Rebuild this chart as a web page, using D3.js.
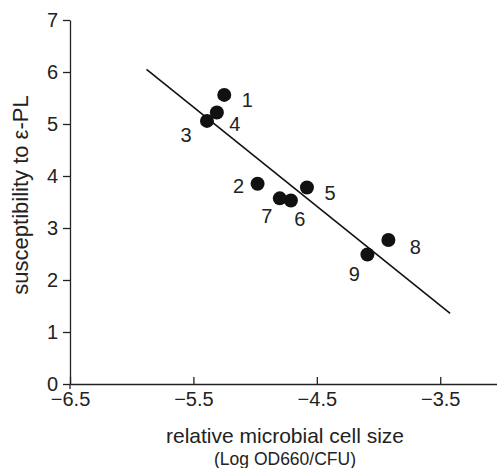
<!DOCTYPE html>
<meta charset="utf-8">
<style>
body { margin: 0; background: #fff; }
svg text { font-family: "Liberation Sans", Arial, sans-serif; fill: #222; }
.axis path, .axis line { stroke: #222; stroke-width: 1.3px; }
.axis text { font-size: 20px; }
.fit { fill: none; stroke: #111; stroke-width: 1.6px; }
.dot { fill: #111; }
.num { font-size: 20px; }
</style>
<svg width="497" height="468"></svg>
<script src="https://d3js.org/d3.v7.min.js"></script>
<script>
var ids = [1, 2, 3, 4, 5, 6, 7, 8, 9];
var cellSize = [-5.25, -4.98, -5.39, -5.31, -4.58, -4.71, -4.80, -3.92, -4.09];
var suscept = [5.56, 3.85, 5.06, 5.22, 3.78, 3.53, 3.57, 2.77, 2.49];

// regression line end points
var fitX = [-5.88, -3.42];
var fitY = [6.05, 1.36];

var xTicks = [-6.5, -5.5, -4.5, -3.5];
var yTicks = [0, 1, 2, 3, 4, 5, 6, 7];

// where each number sits next to its dot (px)
var labelOff = {1: [23, 5], 2: [-19, 2], 3: [-21, 14], 4: [18, 11], 5: [23, 6],
                6: [9, 19], 7: [-13, 18], 8: [27, 7], 9: [-13, 19]};

var svg = d3.select("svg");

var x = d3.scaleLinear().domain([-6.5, -3.04]).range([70, 497]);
var y = d3.scaleLinear().domain([0, 7]).range([384, 20]);

svg.append("g")
    .attr("class", "axis")
    .attr("transform", "translate(0,384)")
    .call(d3.axisBottom(x).tickValues(xTicks).tickSizeInner(-7).tickSizeOuter(0)
      .tickPadding(8).tickFormat(d3.format(".1f")));

svg.append("g")
    .attr("class", "axis")
    .attr("transform", "translate(70,0)")
    .call(d3.axisLeft(y).tickValues(yTicks).tickSizeInner(7).tickSizeOuter(0)
      .tickPadding(5).tickFormat(d3.format("d")));

// small stub of the y axis below the x axis
svg.append("line")
    .attr("x1", x(-6.5)).attr("x2", x(-6.5))
    .attr("y1", y(0)).attr("y2", y(0) + 5)
    .style("stroke", "#222").style("stroke-width", 1.3);

svg.append("path")
    .datum(d3.zip(fitX, fitY))
    .attr("class", "fit")
    .attr("d", d3.line().x(function(d) { return x(d[0]); }).y(function(d) { return y(d[1]); }));

var pts = ids.map(function(id, i) { return {id: id, x: cellSize[i], y: suscept[i]}; });

svg.selectAll(".dot")
    .data(pts)
  .enter().append("circle")
    .attr("class", "dot")
    .attr("cx", function(d) { return x(d.x); })
    .attr("cy", function(d) { return y(d.y); })
    .attr("r", 7);

svg.selectAll(".num")
    .data(pts)
  .enter().append("text")
    .attr("class", "num")
    .attr("text-anchor", "middle")
    .attr("dy", "0.35em")
    .attr("x", function(d) { return x(d.x) + labelOff[d.id][0]; })
    .attr("y", function(d) { return y(d.y) + labelOff[d.id][1]; })
    .text(function(d) { return d.id; });

svg.append("text")
    .attr("x", 285).attr("y", 443)
    .attr("text-anchor", "middle")
    .style("font-size", "21px")
    .text("relative microbial cell size");

svg.append("text")
    .attr("x", 285).attr("y", 465)
    .attr("text-anchor", "middle")
    .style("font-size", "17.5px")
    .text("(Log OD660/CFU)");

svg.append("text")
    .attr("transform", "translate(28,195) rotate(-90)")
    .attr("text-anchor", "middle")
    .style("font-size", "22px")
    .text("susceptibility to ε-PL");
</script>
